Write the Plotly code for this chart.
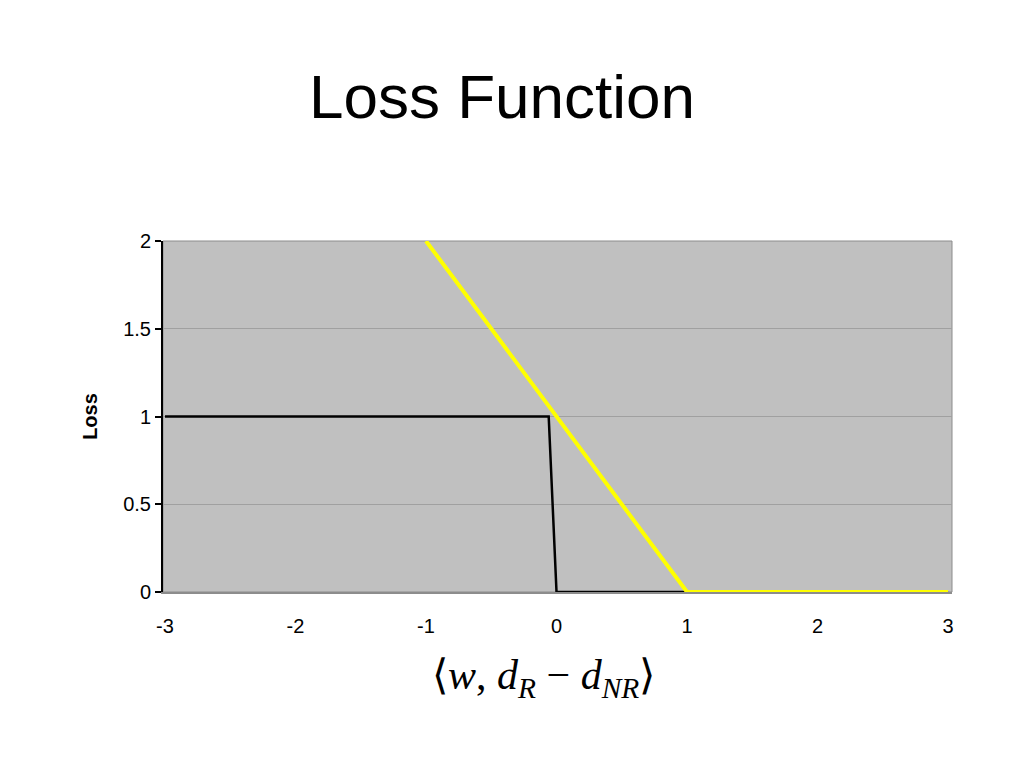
import plotly.graph_objects as go

# 0-1 loss (black) and hinge loss (yellow)
zero_one_x = [-3, -0.06, 0, 3]
zero_one_y = [1, 1, 0, 0]
hinge_x = [-1, 1, 3]
hinge_y = [2, 0, 0]

x_ticks = [-3, -2, -1, 0, 1, 2, 3]
y_ticks = [0, 0.5, 1, 1.5, 2]

fig = go.Figure()
fig.add_trace(go.Scatter(x=zero_one_x, y=zero_one_y, mode="lines",
                         line=dict(color="black", width=2.5), showlegend=False))
fig.add_trace(go.Scatter(x=hinge_x, y=hinge_y, mode="lines",
                         line=dict(color="#ffff00", width=4), showlegend=False))

fig.update_layout(
    width=1024, height=768,
    margin=dict(l=155, r=80, t=233, b=184),
    paper_bgcolor="white",
    plot_bgcolor="#c0c0c0",
    font=dict(family="Liberation Sans, Arial, sans-serif", color="black", size=20),
    shapes=[dict(type="rect", xref="paper", yref="paper", x0=0, x1=1, y0=0, y1=1,
                 line=dict(color="#8c8c8c", width=1), layer="below")],
    annotations=[
        dict(text="Loss Function", xref="paper", yref="paper", x=0.43, y=1,
             yshift=145, xanchor="center", yanchor="middle", showarrow=False,
             font=dict(size=62, family="Liberation Sans, Arial, sans-serif")),
        dict(text="⟨<i>w</i>, <i>d</i><sub><i>R</i></sub> − <i>d</i><sub><i>NR</i></sub>⟩",
             xref="paper", yref="paper", x=0.482, y=0, yshift=-86,
             xanchor="center", yanchor="middle", showarrow=False,
             font=dict(size=42, family="Liberation Serif, Times New Roman, serif")),
    ],
)

fig.update_xaxes(range=[-3.015, 3.03], tickvals=x_ticks, ticktext=[str(v) for v in x_ticks],
                 showgrid=False, zeroline=False, showline=True, linecolor="#8c8c8c",
                 linewidth=2, ticks="outside", ticklen=15, tickcolor="rgba(0,0,0,0)",
                 tickfont=dict(size=20))
fig.update_yaxes(range=[0, 2], tickvals=y_ticks, ticktext=["0", "0.5", "1", "1.5", "2"],
                 showgrid=True, gridcolor="#a0a0a0", gridwidth=1, zeroline=False,
                 showline=True, linecolor="black", linewidth=2,
                 ticks="outside", ticklen=6, tickcolor="black", tickwidth=1.5,
                 tickfont=dict(size=20),
                 title=dict(text="<b>Loss</b>", font=dict(size=20), standoff=20))

fig.write_html("out.html")
